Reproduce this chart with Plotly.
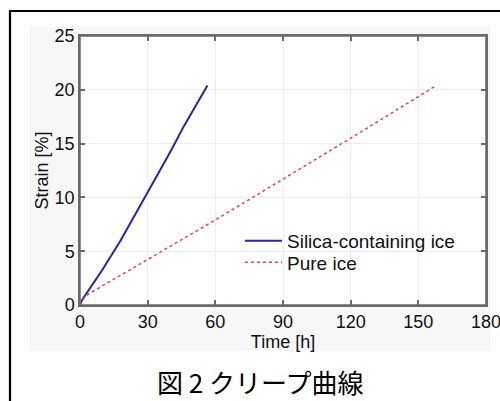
import plotly.graph_objects as go

# Data
silica_time = [0, 1, 10, 18, 28.7, 40.5, 46, 56.5]
silica_strain = [0, 0.5, 3.3, 6.0, 10.0, 14.4, 16.6, 20.4]

pure_time = [0, 2, 4, 30, 60, 90, 120, 158]
pure_strain = [0, 0.7, 1.05, 4.2, 7.9, 11.7, 15.5, 20.4]

x_ticks = [0, 30, 60, 90, 120, 150, 180]
x_tick_labels = ["0", "30", "60", "90", "120", "150", "180"]
y_ticks = [0, 5, 10, 15, 20, 25]
y_tick_labels = ["0", "5", "10", "15", "20", "25"]

series_names = ["Silica-containing ice", "Pure ice"]
caption = "図 2 クリープ曲線"
x_title = "Time [h]"
y_title = "Strain [%]"

W, H = 500, 401
L, R, T, B = 80, 14, 36, 96
pw, ph = W - L - R, H - T - B

def px2paper_x(px):
    return (px - L) / pw

def px2paper_y(py):
    return (H - B - py) / ph

FONT = "Liberation Sans"
AXIS_GREY = "#6a6a6a"

fig = go.Figure()
fig.add_trace(go.Scatter(x=silica_time, y=silica_strain, mode="lines",
                         name=series_names[0], legend="legend",
                         line=dict(color="#2424b0", width=2)))
fig.add_trace(go.Scatter(x=pure_time, y=pure_strain, mode="lines",
                         name=series_names[1], legend="legend2",
                         line=dict(color="#e8444c", width=1.5, dash="dot")))

axis_common = dict(
    showline=True, linecolor=AXIS_GREY, linewidth=1.5, mirror="ticks",
    ticks="inside", ticklen=5, tickcolor=AXIS_GREY, tickwidth=1.5,
    showgrid=True, gridcolor="#ebedf4", gridwidth=1, zeroline=False,
    automargin=False, ticklabeloverflow="allow",
    tickfont=dict(family=FONT, size=18, color="#111"),
    title_font=dict(family=FONT, size=18, color="#111"),
)

fig.update_xaxes(range=[0, 180], tickvals=x_ticks, ticktext=x_tick_labels,
                 title_text=x_title, title_standoff=0, **axis_common)
fig.update_yaxes(range=[0, 25], tickvals=y_ticks, ticktext=y_tick_labels,
                 title_text=y_title, title_standoff=1, **axis_common)

shapes = [
    # faint grey backdrop around the plot
    dict(type="rect", xref="paper", yref="paper",
         x0=px2paper_x(30), x1=px2paper_x(490), y0=px2paper_y(351), y1=px2paper_y(27),
         fillcolor="#f7f7f8", line=dict(width=0), layer="below"),
    # white plot area
    dict(type="rect", xref="paper", yref="paper", x0=0, x1=1, y0=0, y1=1,
         fillcolor="white", line=dict(width=0), layer="below"),
    # plot box outline
    dict(type="rect", xref="paper", yref="paper", x0=0, x1=1, y0=0, y1=1,
         fillcolor="rgba(0,0,0,0)", line=dict(color=AXIS_GREY, width=1.5)),
    # outer frame (top and left edges)
    dict(type="line", xref="paper", yref="paper",
         x0=px2paper_x(10), x1=px2paper_x(510), y0=px2paper_y(11), y1=px2paper_y(11),
         line=dict(color="black", width=2.2)),
    dict(type="line", xref="paper", yref="paper",
         x0=px2paper_x(10), x1=px2paper_x(10), y0=px2paper_y(10), y1=px2paper_y(410),
         line=dict(color="black", width=2.2)),
]

legend_common = dict(xanchor="left", yanchor="middle",
                     bgcolor="rgba(0,0,0,0)", borderwidth=0,
                     font=dict(family=FONT, size=19, color="#111"),
                     itemwidth=37)

fig.update_layout(
    width=W, height=H,
    margin=dict(l=L, r=R, t=T, b=B, pad=0),
    paper_bgcolor="white", plot_bgcolor="rgba(0,0,0,0)",
    showlegend=True,
    legend=dict(x=px2paper_x(240), y=px2paper_y(241), **legend_common),
    legend2=dict(x=px2paper_x(240), y=px2paper_y(262.5), **legend_common),
    shapes=shapes,
    annotations=[dict(text=caption, xref="paper", yref="paper",
                      x=px2paper_x(260), y=px2paper_y(381), showarrow=False,
                      xanchor="center", yanchor="middle",
                      font=dict(family="Noto Sans CJK JP", size=26, color="black"))],
)

fig.write_html("out.html", config={"displayModeBar": False},
               post_script="document.body.style.margin='0';document.body.style.overflow='hidden';")
